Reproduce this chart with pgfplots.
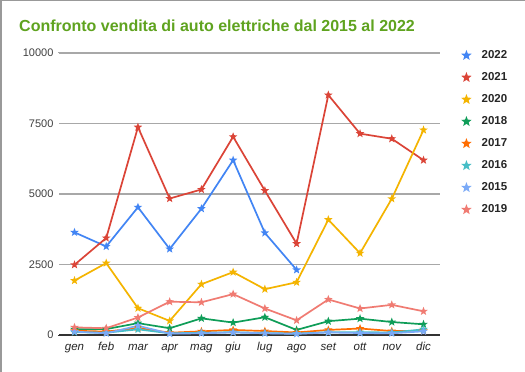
\documentclass[border=0pt]{standalone}
\usepackage{fontspec}
\setmainfont{Liberation Sans}
\usepackage{pgfplots}
\pgfplotsset{compat=1.18}
\definecolor{cA}{HTML}{4285F4}
\definecolor{cB}{HTML}{DB4437}
\definecolor{cC}{HTML}{F4B400}
\definecolor{cD}{HTML}{0F9D58}
\definecolor{cE}{HTML}{FF6D01}
\definecolor{cF}{HTML}{46BDC6}
\definecolor{cG}{HTML}{7BAAF7}
\definecolor{cH}{HTML}{F07B72}
\definecolor{titlegreen}{HTML}{5FA31F}
\definecolor{gridc}{HTML}{A8A8A8}
\pgfdeclareplotmark{fstar}{%
  \pgfpathmoveto{\pgfpointpolar{90}{\pgfplotmarksize}}%
  \pgfpathlineto{\pgfpointpolar{126}{0.42\pgfplotmarksize}}%
  \pgfpathlineto{\pgfpointpolar{162}{\pgfplotmarksize}}%
  \pgfpathlineto{\pgfpointpolar{198}{0.42\pgfplotmarksize}}%
  \pgfpathlineto{\pgfpointpolar{234}{\pgfplotmarksize}}%
  \pgfpathlineto{\pgfpointpolar{270}{0.42\pgfplotmarksize}}%
  \pgfpathlineto{\pgfpointpolar{306}{\pgfplotmarksize}}%
  \pgfpathlineto{\pgfpointpolar{342}{0.42\pgfplotmarksize}}%
  \pgfpathlineto{\pgfpointpolar{18}{\pgfplotmarksize}}%
  \pgfpathlineto{\pgfpointpolar{54}{0.42\pgfplotmarksize}}%
  \pgfpathclose\pgfusepathqfill}
\pgfplotstableread{
x y
0 3640
1 3140
2 4530
3 3050
4 4480
5 6200
6 3620
7 2310
}\tA
\pgfplotstableread{
x y
0 2490
1 3440
2 7370
3 4840
4 5160
5 7030
6 5120
7 3240
8 8510
9 7140
10 6960
11 6200
}\tB
\pgfplotstableread{
x y
0 1930
1 2550
2 950
3 500
4 1800
5 2230
6 1625
7 1870
8 4090
9 2900
10 4830
11 7270
}\tC
\pgfplotstableread{
x y
0 200
1 210
2 420
3 240
4 590
5 440
6 630
7 180
8 490
9 580
10 460
11 380
}\tD
\pgfplotstableread{
x y
0 150
1 120
2 250
3 80
4 130
5 180
6 140
7 90
8 180
9 230
10 140
11 150
}\tE
\pgfplotstableread{
x y
0 100
1 80
2 200
3 60
4 80
5 100
6 70
7 50
8 100
9 100
10 90
11 200
}\tF
\pgfplotstableread{
x y
0 120
1 60
2 330
3 50
4 60
5 90
6 60
7 40
8 90
9 70
10 60
11 130
}\tG
\pgfplotstableread{
x y
0 270
1 240
2 620
3 1180
4 1160
5 1450
6 940
7 520
8 1260
9 940
10 1070
11 840
}\tH
\begin{document}
\begin{tikzpicture}[x=1pt,y=1pt]
\useasboundingbox (0,0) rectangle (525,372);
\fill[white] (0,0) rectangle (525,372);
\draw[black!40, line width=1.5pt] (0.75,0) -- (0.75,371.25) -- (525,371.25);
\node[anchor=base west, font=\fontsize{16}{19}\selectfont\bfseries, text=titlegreen, inner sep=0pt] at (19,340) {Confronto vendita di auto elettriche dal 2015 al 2022};
\begin{axis}[
  at={(58pt,37pt)}, anchor=south west, scale only axis,
  width=382pt, height=282pt,
  xmin=-0.52, xmax=11.52, ymin=0, ymax=10000,
  axis x line*=bottom, axis y line*=left,
  x axis line style={-, black!80, line width=1.2pt},
  y axis line style={-, white, line width=0.2pt},
  xtick={0,...,11},
  xticklabels={gen,feb,mar,apr,mag,giu,lug,ago,set,ott,nov,dic},
  ytick={0,2500,5000,7500,10000},
  scaled y ticks=false,
  ymajorgrids=true,
  major grid style={gridc, line width=1.1pt},
  tick style={draw=none},
  /pgf/number format/assume math mode=true,
  /pgf/number format/fixed, /pgf/number format/1000 sep={},
  yticklabel style={font=\fontsize{11}{13}\selectfont, text=black!75, xshift=-1pt},
  xticklabel style={font=\fontsize{11.5}{13}\selectfont\itshape, text=black!85, text height=8pt, text depth=3pt, yshift=-4pt},
  every axis plot/.append style={line width=1.7pt, mark=fstar, mark size=4.5pt},
  legend style={draw=none, fill=none, at={(1,1)}, anchor=north west, xshift=21pt, yshift=4.5pt,
    font=\fontsize{11.5}{13}\selectfont\bfseries, text=black!85, row sep=8.5pt, inner sep=0pt,
    /tikz/every odd column/.append style={column sep=8pt}},
  legend cell align=left,
  legend image code/.code={\path plot[mark size=5.5pt] coordinates {(0pt,0pt)};},
]
\addplot[cA] table {\tA};
\addplot[cB] table {\tB};
\addplot[cC] table {\tC};
\addplot[cD] table {\tD};
\addplot[cE] table {\tE};
\addplot[cF] table {\tF};
\addplot[cG] table {\tG};
\addplot[cH] table {\tH};
\legend{2022,2021,2020,2018,2017,2016,2015,2019}
\end{axis}
\end{tikzpicture}
\end{document}
